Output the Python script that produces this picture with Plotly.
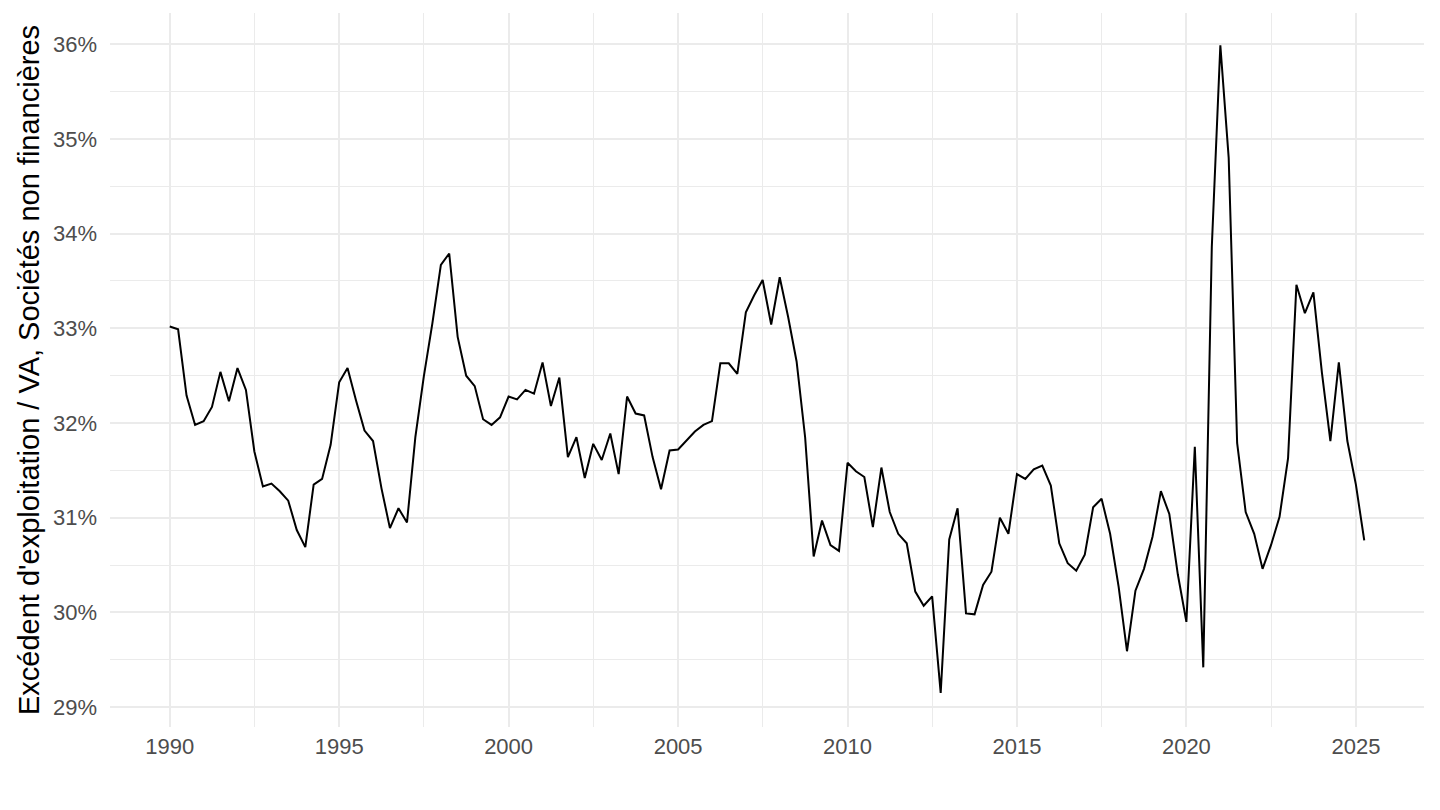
import pandas as pd
import plotly.graph_objects as go

# Excédent d'exploitation / VA, sociétés non financières (trimestriel, %)

quarters = pd.date_range("1990-01-01", "2025-04-01", freq="QS").strftime("%Y-%m-%d").tolist()

taux_marge = [
    33.02, 32.99, 32.29, 31.98,  # 1990
    32.02, 32.17, 32.54, 32.23,  # 1991
    32.58, 32.35, 31.70, 31.33,  # 1992
    31.36, 31.28, 31.18, 30.87,  # 1993
    30.69, 31.35, 31.41, 31.77,  # 1994
    32.43, 32.58, 32.24, 31.92,  # 1995
    31.81, 31.31, 30.89, 31.10,  # 1996
    30.95, 31.85, 32.49, 33.05,  # 1997
    33.67, 33.79, 32.91, 32.50,  # 1998
    32.39, 32.04, 31.98, 32.06,  # 1999
    32.28, 32.25, 32.35, 32.31,  # 2000
    32.64, 32.18, 32.48, 31.64,  # 2001
    31.85, 31.42, 31.78, 31.61,  # 2002
    31.89, 31.46, 32.28, 32.10,  # 2003
    32.08, 31.64, 31.30, 31.71,  # 2004
    31.72, 31.82, 31.91, 31.98,  # 2005
    32.02, 32.63, 32.63, 32.52,  # 2006
    33.17, 33.35, 33.51, 33.04,  # 2007
    33.54, 33.12, 32.65, 31.85,  # 2008
    30.59, 30.97, 30.71, 30.65,  # 2009
    31.58, 31.49, 31.43, 30.90,  # 2010
    31.53, 31.06, 30.83, 30.73,  # 2011
    30.22, 30.07, 30.17, 29.15,  # 2012
    30.77, 31.10, 29.99, 29.98,  # 2013
    30.29, 30.43, 31.00, 30.83,  # 2014
    31.46, 31.41, 31.51, 31.55,  # 2015
    31.34, 30.73, 30.52, 30.44,  # 2016
    30.61, 31.11, 31.20, 30.83,  # 2017
    30.27, 29.59, 30.23, 30.46,  # 2018
    30.80, 31.28, 31.04, 30.40,  # 2019
    29.90, 31.75, 29.42, 33.86,  # 2020
    35.99, 34.80, 31.79, 31.06,  # 2021
    30.83, 30.46, 30.71, 31.01,  # 2022
    31.63, 33.46, 33.16, 33.38,  # 2023
    32.53, 31.81, 32.64, 31.81,  # 2024
    31.35, 30.76,                # 2025
]

y_ticks = [29, 30, 31, 32, 33, 34, 35, 36]
y_labels = [f"{v}%" for v in y_ticks]

fig = go.Figure()
fig.add_trace(go.Scatter(x=quarters, y=taux_marge, mode='lines',
                         line=dict(color='black', width=2), showlegend=False))

grid = '#ebebeb'
fig.update_layout(
    width=1440, height=810,
    paper_bgcolor='white', plot_bgcolor='white',
    margin=dict(l=110, r=16, t=13, b=83),
    font=dict(family='Liberation Sans, Arial, sans-serif', color='#4d4d4d', size=22),
    xaxis=dict(
        type='date', range=['1988-03-28', '2027-01-05'],
        tick0='1990-01-01', dtick='M60', tickformat='%Y',
        showgrid=True, gridcolor=grid, gridwidth=1.6,
        minor=dict(dtick='M30', tick0='1990-01-01', showgrid=True, gridcolor=grid, gridwidth=0.8),
        zeroline=False, showline=False, ticks='', ticklabelstandoff=4,
        automargin=False,
    ),
    yaxis=dict(
        range=[28.79, 36.33], tickvals=y_ticks, ticktext=y_labels,
        showgrid=True, gridcolor=grid, gridwidth=1.6,
        minor=dict(dtick=0.5, showgrid=True, gridcolor=grid, gridwidth=0.8),
        zeroline=False, showline=False, ticks='', ticklabelstandoff=12,
        automargin=False,
        title=dict(text="Excédent d'exploitation / VA, Sociétés non financières",
                   font=dict(color='black', size=29), standoff=4),
    ),
)

fig.write_html("out.html", config={'displayModeBar': False},
               post_script="document.body.style.margin='0';")
